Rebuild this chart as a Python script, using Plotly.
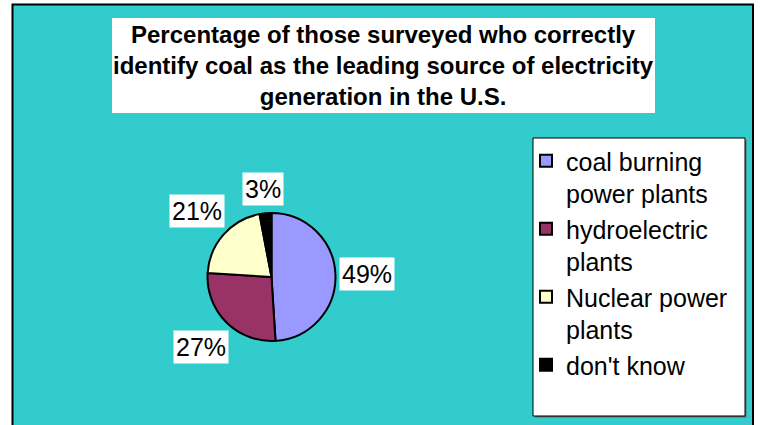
import math
import plotly.graph_objects as go

# Survey answers and their shares (%)
categories = ["coal burning<br>power plants", "hydroelectric<br>plants",
              "Nuclear power<br>plants", "don't know"]
shares = [49, 27, 21, 3]
slice_colors = ["#9999FF", "#993366", "#FFFFCC", "#000000"]
title_lines = ["Percentage of those surveyed who correctly",
               "identify coal as the leading source of electricity",
               "generation in the U.S."]

W, H = 760, 425
TEAL = "#33CCCC"

# pie geometry in pixels
cx, cy, r = 271.5, 277.0, 64.0


def px(x):
    return x / W


def py(y):
    return 1 - y / H


fig = go.Figure()
fig.add_trace(go.Pie(
    labels=categories,
    values=shares,
    sort=False,
    direction="clockwise",
    rotation=0,
    textinfo="none",
    hoverinfo="label+percent",
    marker=dict(colors=slice_colors, line=dict(color="#000000", width=2)),
    domain=dict(x=[px(cx - r), px(cx + r)], y=[py(cy + r), py(cy - r)]),
))

shapes = [
    # chart area with its frame
    dict(type="rect", xref="paper", yref="paper", x0=px(12.5), x1=px(753),
         y0=py(440), y1=py(4.5), fillcolor=TEAL,
         line=dict(color="#000000", width=2), layer="below"),
    # title box
    dict(type="rect", xref="paper", yref="paper", x0=px(112), x1=px(655),
         y0=py(113), y1=py(18), fillcolor="#FFFFFF", line=dict(width=0),
         layer="below"),
    # legend shadow and box
    dict(type="rect", xref="paper", yref="paper", x0=px(535), x1=px(746.5),
         y0=py(417.5), y1=py(140), fillcolor="#666666", line=dict(width=0),
         layer="below"),
    dict(type="rect", xref="paper", yref="paper", x0=px(533), x1=px(745),
         y0=py(416), y1=py(138), fillcolor="#FFFFFF",
         line=dict(color="#000000", width=1), layer="below"),
]

annotations = [dict(
    text="<br>".join(title_lines), xref="paper", yref="paper",
    x=px(383.5), y=py(65.5), xanchor="center", yanchor="middle",
    showarrow=False, align="center",
    font=dict(family="Liberation Sans, Arial", size=24, color="#000000",
              weight="bold"),
)]

# percentage labels just outside each slice
label_fs = 25
gap = 6
total = sum(shares)
cum = 0
for v in shares:
    mid = (cum + v / 2) / total * 2 * math.pi
    cum += v
    txt = f"{round(v / total * 100)}%"
    hw = (len(txt) * 0.62 * label_fs + 4) / 2 if len(txt) > 2 else 19.5
    hh = 16.5
    dx, dy = math.sin(mid), -math.cos(mid)
    dist = r + gap + abs(dx) * hw + abs(dy) * hh
    annotations.append(dict(
        text=txt, xref="paper", yref="paper",
        x=px(cx + dist * dx), y=py(cy + dist * dy),
        xanchor="center", yanchor="middle", showarrow=False,
        bgcolor="#FFFFFF", borderpad=2,
        font=dict(family="Liberation Sans, Arial", size=label_fs, color="#000000"),
    ))

fig.update_layout(
    width=W, height=H,
    margin=dict(l=0, r=0, t=0, b=0),
    paper_bgcolor="#FFFFFF",
    shapes=shapes,
    annotations=annotations,
    showlegend=True,
    legend=dict(
        x=px(526), y=py(138), xanchor="left", yanchor="top",
        bgcolor="rgba(0,0,0,0)", borderwidth=0, valign="top",
        traceorder="normal",
        font=dict(family="Liberation Sans, Arial", size=25, color="#000000"),
    ),
)

fig.write_html("out.html")
